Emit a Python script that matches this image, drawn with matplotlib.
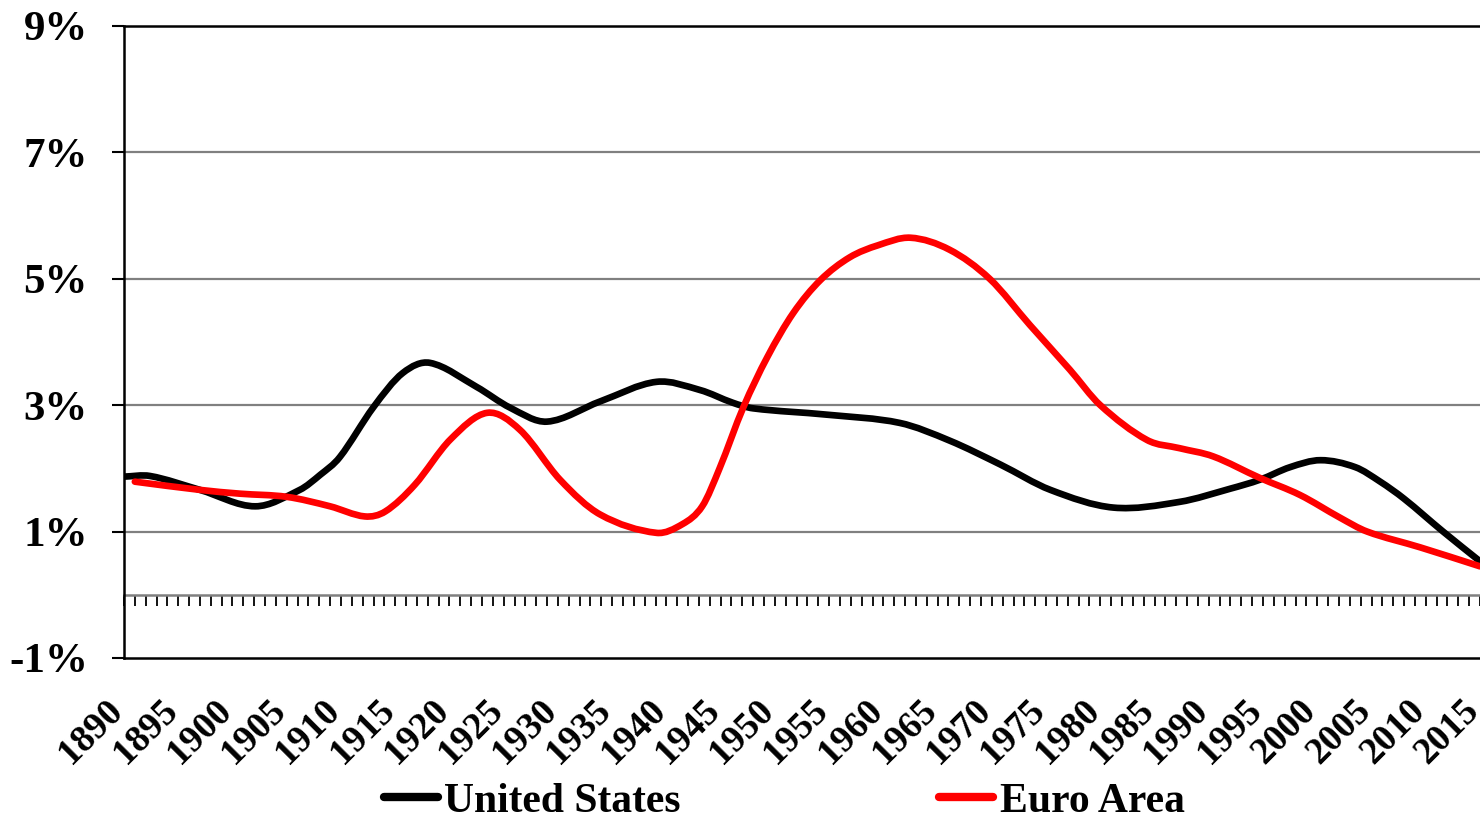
import matplotlib
matplotlib.use("Agg")
import matplotlib.pyplot as plt
import matplotlib.transforms as mtransforms
from matplotlib.path import Path
from matplotlib.patches import PathPatch
from matplotlib.lines import Line2D
from matplotlib.ticker import FuncFormatter, MultipleLocator

# ---- data ----
us_years = [1890, 1892.4, 1897.0, 1902.1, 1906.2, 1908.1, 1909.9, 1913.0, 1915.7, 1918.2,
            1922.5, 1925.6, 1929.0, 1933.9, 1939.1, 1943.1, 1946.1, 1948.0, 1954.8, 1961.5,
            1966.1, 1970.8, 1975.4, 1981.2, 1987.3, 1992.0, 1994.7, 1997.5, 2000.3, 2003.5,
            2005.8, 2008.0, 2011.6, 2015]
us_values = [1.87, 1.88, 1.66, 1.40, 1.66, 1.90, 2.18, 2.97, 3.51, 3.67,
             3.29, 2.96, 2.74, 3.06, 3.37, 3.24, 3.04, 2.95, 2.85, 2.72,
             2.44, 2.06, 1.66, 1.38, 1.47, 1.68, 1.82, 2.02, 2.13, 2.02,
             1.79, 1.52, 1.00, 0.53]

ea_years = [1891, 1897.0, 1900.7, 1905.0, 1909.0, 1912.2, 1914.1, 1916.8, 1920.1, 1923.5,
            1926.5, 1930.2, 1933.9, 1939.1, 1941.5, 1943.3, 1944.9, 1947.1, 1949.3, 1951.7,
            1954.2, 1956.9, 1959.5, 1962.5, 1966.1, 1969.8, 1973.5, 1977.2, 1980.0, 1984.3,
            1987.3, 1990.4, 1994.7, 1998.4, 2002.1, 2004.6, 2009.5, 2015]
ea_values = [1.79, 1.66, 1.60, 1.55, 1.40, 1.24, 1.32, 1.74, 2.46, 2.88,
             2.61, 1.82, 1.27, 0.98, 1.12, 1.40, 2.00, 2.97, 3.76, 4.46,
             4.98, 5.34, 5.53, 5.65, 5.46, 5.00, 4.27, 3.56, 3.00, 2.45,
             2.32, 2.19, 1.85, 1.58, 1.22, 1.00, 0.75, 0.45]

tick_years = list(range(1890, 2016, 5))
y_ticks = [-1, 1, 3, 5, 7, 9]
series_names = ["United States", "Euro Area"]
series_colors = ["black", "#ff0000"]


def smooth_path(xs, ys):
    """Cubic Hermite curve through the data points, drawn as Bezier segments."""
    n = len(xs)
    slopes = []
    for i in range(n):
        if i == 0:
            m = (ys[1] - ys[0]) / (xs[1] - xs[0])
        elif i == n - 1:
            m = (ys[-1] - ys[-2]) / (xs[-1] - xs[-2])
        else:
            m = (ys[i + 1] - ys[i - 1]) / (xs[i + 1] - xs[i - 1])
        slopes.append(m)
    verts = [(xs[0], ys[0])]
    codes = [Path.MOVETO]
    for i in range(n - 1):
        h = xs[i + 1] - xs[i]
        c1 = (xs[i] + h / 3, ys[i] + slopes[i] * h / 3)
        c2 = (xs[i + 1] - h / 3, ys[i + 1] - slopes[i + 1] * h / 3)
        verts += [c1, c2, (xs[i + 1], ys[i + 1])]
        codes += [Path.CURVE4] * 3
    return Path(verts, codes)


# ---- figure ----
plt.rcParams['font.family'] = ['Liberation Serif', 'DejaVu Serif']
plt.rcParams['font.weight'] = 'bold'

fig = plt.figure(figsize=(14.8, 8.23), dpi=100)
ax = fig.add_axes([124 / 1480, 1 - 658 / 823, 1 - 124 / 1480, (658 - 26) / 823])

ax.set_xlim(1890, 2015)
ax.set_ylim(-1, 9)

# gridlines
for v in [1, 3, 5, 7]:
    ax.axhline(v, color='#808080', lw=1.6, zorder=1)

for xs, ys, col, z in [(us_years, us_values, series_colors[0], 3),
                       (ea_years, ea_values, series_colors[1], 4)]:
    patch = PathPatch(smooth_path(xs, ys), fill=False, edgecolor=col, lw=4.8,
                      capstyle='round', joinstyle='round', zorder=z)
    ax.add_patch(patch)

# spines
for s in ['left', 'bottom', 'top']:
    ax.spines[s].set_color('black')
    ax.spines[s].set_linewidth(1.8)
ax.spines['right'].set_visible(False)

# y axis
ax.set_yticks(y_ticks)
ax.yaxis.set_major_formatter(FuncFormatter(lambda v, p: f"{int(v)}%"))
ax.tick_params(axis='y', direction='out', length=9, width=1.5, pad=17,
               labelsize=31, colors='black')

# x axis labels at bottom
ax.set_xticks(tick_years)
ax.set_xticklabels([str(y) for y in tick_years])
ax.tick_params(axis='x', length=0, pad=25, labelsize=27)
offset = mtransforms.ScaledTranslation(6 / 100, 0, fig.dpi_scale_trans)
for lab in ax.get_xticklabels():
    lab.set_rotation(45)
    lab.set_ha('right')
    lab.set_va('top')
    lab.set_transform(lab.get_transform() + offset)

# zero-line category axis with yearly tick marks
sec = ax.secondary_xaxis(0.1)
sec.spines['bottom'].set_color('#808080')
sec.spines['bottom'].set_linewidth(1.8)
sec.xaxis.set_major_locator(MultipleLocator(1))
sec.tick_params(axis='x', direction='out', length=8, width=1.3, colors='black',
                labelbottom=False)

# legend
handles = [Line2D([], [], color=c, lw=6, solid_capstyle='round') for c in series_colors]
leg = fig.legend(handles, series_names, loc='center', bbox_to_anchor=(0.53, 0.026),
                 ncol=2, frameon=False, fontsize=30, handlelength=1.3,
                 handletextpad=0.15, columnspacing=6.2)

fig.savefig("out.png", dpi=100)
